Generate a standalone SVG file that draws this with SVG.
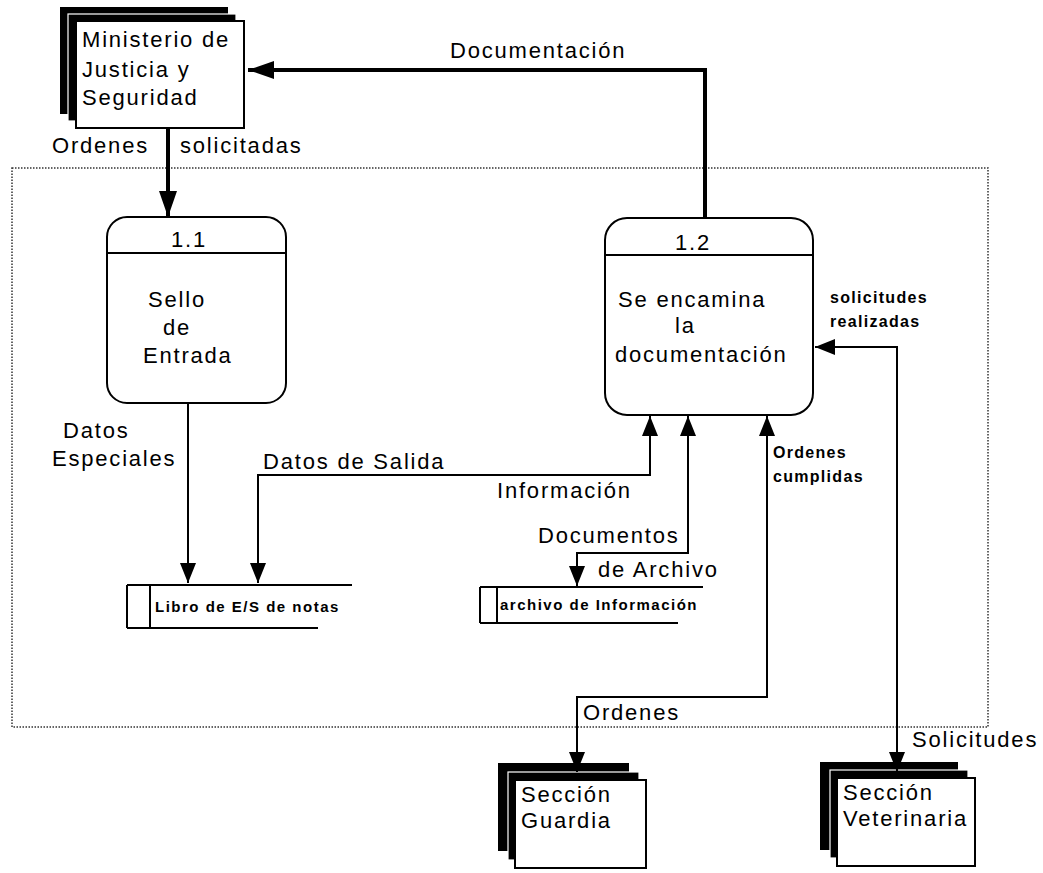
<svg xmlns="http://www.w3.org/2000/svg" width="1043" height="873" viewBox="0 0 1043 873">
<style>
text{font-family:"Liberation Sans",Arial,sans-serif;fill:#000}
.t{font-size:22px;letter-spacing:1.8px}
.s{font-size:16px;font-weight:bold;letter-spacing:1.3px}
.st{font-size:15px;font-weight:bold;letter-spacing:1.5px}
.box{fill:#fff;stroke:#000;stroke-width:2}
.shadow{fill:#000}
.mid{fill:#000;stroke:#fff;stroke-width:1.2}
.ln{fill:none;stroke:#000;stroke-width:2}
.thick{fill:none;stroke:#000;stroke-width:4}
.store{fill:none;stroke:#000;stroke-width:2}
.bound{fill:none;stroke:#333;stroke-width:1.5;stroke-dasharray:1.5 1.5}
</style>
<defs>
<marker id="a" markerUnits="userSpaceOnUse" viewBox="0 0 20 16" markerWidth="20" markerHeight="16" refX="20" refY="8" orient="auto-start-reverse"><path d="M0,0 L20,8 L0,16 z" fill="#000"/></marker>
<marker id="t" markerUnits="userSpaceOnUse" viewBox="0 0 26 18" markerWidth="26" markerHeight="18" refX="26" refY="9" orient="auto-start-reverse"><path d="M0,0 L26,9 L0,18 z" fill="#000"/></marker>
</defs>
<rect width="1043" height="873" fill="#fff"/>
<rect id="boundary" class="bound" x="12" y="168" width="976" height="559"/>

<g id="ministerio">
<rect class="shadow" x="60" y="7" width="168" height="107"/>
<rect class="mid" x="68" y="14" width="168" height="107"/>
<rect class="box" x="76" y="21" width="168" height="107"/>
<text class="t" x="82" y="47">Ministerio de</text>
<text class="t" x="82" y="77">Justicia y</text>
<text class="t" x="82" y="105">Seguridad</text>
</g>

<g id="p11">
<rect class="box" x="107" y="217" width="179" height="186" rx="20"/>
<line class="ln" x1="107" y1="253" x2="286" y2="253"/>
<text class="t" x="189" y="247" text-anchor="middle">1.1</text>
<text class="t" x="148" y="307">Sello</text>
<text class="t" x="163" y="335">de</text>
<text class="t" x="143" y="363">Entrada</text>
</g>

<g id="p12">
<rect class="box" x="605" y="218" width="208" height="197" rx="22"/>
<line class="ln" x1="605" y1="255" x2="813" y2="255"/>
<text class="t" x="693" y="250" text-anchor="middle">1.2</text>
<text class="t" x="618" y="307">Se encamina</text>
<text class="t" x="675" y="333">la</text>
<text class="t" x="615" y="362">documentación</text>
</g>

<g id="libro">
<path class="store" d="M127,585 H352 M127,585 V628 M150,585 V628 M127,628 H318"/>
<text class="st" x="155" y="612">Libro de E/S de notas</text>
</g>

<g id="archivo">
<path class="store" d="M480,587 H703 M480,587 V623 M497,587 V623 M480,623 H678"/>
<text class="st" x="500" y="610">archivo de Información</text>
</g>

<g id="guardia">
<rect class="shadow" x="498" y="763" width="131" height="88"/>
<rect class="mid" x="508" y="772" width="131" height="88"/>
<rect class="box" x="515" y="780" width="131" height="88"/>
<text class="t" x="521" y="802">Sección</text>
<text class="t" x="521" y="828">Guardia</text>
</g>

<g id="veterinaria">
<rect class="shadow" x="820" y="762" width="138" height="88"/>
<rect class="mid" x="830" y="770" width="138" height="88"/>
<rect class="box" x="837" y="778" width="138" height="88"/>
<text class="t" x="843" y="800">Sección</text>
<text class="t" x="843" y="826">Veterinaria</text>
</g>

<g id="connectors">
<path class="thick" d="M705,218 V70 H248" marker-end="url(#t)"/>
<path class="thick" d="M168,128 V217" marker-end="url(#t)"/>
<path class="ln" d="M188,403 V583" marker-end="url(#a)"/>
<path class="ln" d="M650,416 V475 H258 V583" marker-start="url(#a)" marker-end="url(#a)"/>
<path class="ln" d="M688,416 V553 H577 V586" marker-start="url(#a)" marker-end="url(#a)"/>
<path class="ln" d="M767,416 V697 H577 V772" marker-start="url(#a)" marker-end="url(#a)"/>
<path class="ln" d="M815,347 H897 V772" marker-start="url(#a)" marker-end="url(#a)"/>
</g>

<g id="labels">
<text class="t" x="450" y="58">Documentación</text>
<text class="t" x="52" y="153">Ordenes</text>
<text class="t" x="180" y="153">solicitadas</text>
<text class="t" x="63" y="438">Datos</text>
<text class="t" x="52" y="466">Especiales</text>
<text class="t" x="263" y="469">Datos de Salida</text>
<text class="t" x="497" y="498">Información</text>
<text class="t" x="538" y="543">Documentos</text>
<text class="t" x="598" y="577">de Archivo</text>
<text class="s" x="830" y="303">solicitudes</text>
<text class="s" x="830" y="327">realizadas</text>
<text class="s" x="773" y="458">Ordenes</text>
<text class="s" x="773" y="482">cumplidas</text>
<text class="t" x="583" y="720">Ordenes</text>
<text class="t" x="912" y="747">Solicitudes</text>
</g>
</svg>
